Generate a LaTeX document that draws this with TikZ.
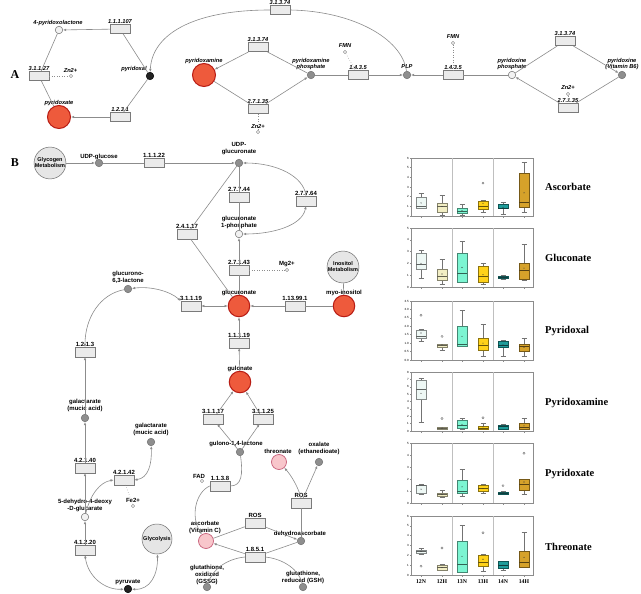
\documentclass[tikz,border=0pt]{standalone}
\usepackage{fontspec}
\setmainfont{Liberation Serif}
\setsansfont{Liberation Sans}
\usetikzlibrary{arrows.meta}
\definecolor{redf}{HTML}{EE5A3C}
\definecolor{redb}{HTML}{B81C14}
\definecolor{pinkf}{HTML}{F8C6CB}
\definecolor{pinkb}{HTML}{C8607A}
\definecolor{greyf}{HTML}{8E8E8E}
\definecolor{greyb}{HTML}{6E6E6E}
\definecolor{blackf}{HTML}{222222}
\definecolor{openf}{HTML}{F2F2F2}
\definecolor{boxf}{HTML}{EBEBEB}
\definecolor{boxb}{HTML}{7A7A7A}
\definecolor{pwf}{HTML}{E6E6E6}
\definecolor{edgec}{HTML}{8C8C8C}
\definecolor{c12N}{HTML}{EEF8F5}
\definecolor{c12H}{HTML}{F2EEC4}
\definecolor{c13N}{HTML}{7CF5D2}
\definecolor{c13H}{HTML}{FFD21A}
\definecolor{c14N}{HTML}{1E9C9A}
\definecolor{c14H}{HTML}{D6A22A}
\tikzset{
 enz/.style={draw=boxb, fill=boxf, line width=0.5pt, minimum width=20pt, minimum height=9.5pt, inner sep=0pt},
 mred/.style={circle, draw=redb, fill=redf, line width=1pt, minimum size=23pt, inner sep=0pt},
 mredb/.style={mred, minimum size=21.5pt},
 mgry/.style={circle, draw=greyb, fill=greyf, line width=0.5pt, minimum size=7.5pt, inner sep=0pt},
 mblk/.style={circle, draw=black, fill=blackf, line width=0.5pt, minimum size=7.5pt, inner sep=0pt},
 mopn/.style={circle, draw=greyb, fill=openf, line width=0.5pt, minimum size=7.5pt, inner sep=0pt},
 mpnk/.style={circle, draw=pinkb, fill=pinkf, line width=0.7pt, minimum size=15pt, inner sep=0pt},
 mion/.style={circle, draw=greyb, fill=white, line width=0.4pt, minimum size=3.4pt, inner sep=0pt},
 pway/.style={circle, draw=greyb, fill=pwf, line width=0.5pt, minimum size=30pt, inner sep=0pt, align=center, font=\sffamily\bfseries\fontsize{5.5}{6}\selectfont},
 tA/.style={font=\sffamily\bfseries\itshape\fontsize{5.7}{6.3}\selectfont, inner sep=0pt, align=center},
 tB/.style={font=\sffamily\bfseries\fontsize{6}{7}\selectfont, inner sep=0pt, align=center},
 eA/.style={tA, anchor=south, inner sep=0.4pt},
 eB/.style={tB, anchor=south, inner sep=0.4pt},
 ln/.style={draw=edgec, line width=0.6pt},
 la/.style={ln, -{Latex[length=3.2pt,width=2.6pt]}},
 lb/.style={ln, {Latex[length=3.2pt,width=2.6pt]}-{Latex[length=3.2pt,width=2.6pt]}},
 lion/.style={draw=edgec, dotted, line width=0.5pt},
 bxfr/.style={draw=black!45, line width=0.5pt},
 bxsep/.style={draw=black!25, line width=0.6pt},
 bxw/.style={draw=black!55, line width=0.45pt},
 tkl/.style={anchor=east, inner sep=0.5pt, font=\sffamily\fontsize{3}{3}\selectfont},
 xlab/.style={font=\bfseries\fontsize{5.8}{6}\selectfont, inner sep=0pt},
 ptitle/.style={font=\bfseries\fontsize{10.5}{11}\selectfont, anchor=west, inner sep=0pt},
 panel/.style={font=\bfseries\fontsize{12}{12}\selectfont, inner sep=0pt}
}
\newcommand\bxsetup[3]{\def\bT{#1}\def\bB{#2}\pgfmathsetmacro\bS{(#2-#1)/#3}%
 \draw[bxfr] (411,\bT) rectangle (533,\bB);
 \draw[bxsep] (452,\bT) -- (452,\bB) (493,\bT) -- (493,\bB);
 \foreach \xx in {421,442,462,483,503,524} {\draw[bxfr] (\xx,\bB) -- (\xx,{\bB+1.5});}}
\newcommand\bxp[8]{%
 \draw[bxw] (#2,{\bB-(#3)*\bS}) -- (#2,{\bB-(#4)*\bS}) (#2,{\bB-(#6)*\bS}) -- (#2,{\bB-(#7)*\bS})
   ({#2-2.5},{\bB-(#3)*\bS}) -- ({#2+2.5},{\bB-(#3)*\bS}) ({#2-2.5},{\bB-(#7)*\bS}) -- ({#2+2.5},{\bB-(#7)*\bS});
 \draw[fill=#1, draw=#1!55!black, line width=0.5pt] ({#2-5},{\bB-(#4)*\bS}) rectangle ({#2+5},{\bB-(#6)*\bS});
 \draw[draw=#1!40!black, line width=0.5pt] ({#2-5},{\bB-(#5)*\bS}) -- ({#2+5},{\bB-(#5)*\bS});
 \fill[black!80] (#2,{\bB-(#8)*\bS}) circle[radius=0.55pt];}
\newcommand\bxo[2]{\draw[black!60, line width=0.35pt] (#1,{\bB-(#2)*\bS}) circle[radius=1.1pt];}
\begin{document}
\begin{tikzpicture}[x=1pt,y=-1pt]
\fill[white] (0,0) rectangle (641,594);
\useasboundingbox (0,0) rectangle (641,594);
% ================= Panel A =================
\node[panel] (pA) at (15,75) {A};
\node[mopn] (plac) at (59,30) {};
\node[tA] (placl) at (58,23) {4-pyridoxolactone};
\node[enz] (e1) at (120,29) {};
\node[eA] (e1l) at (e1.north) {1.1.1.107};
\node[mblk] (pal) at (150,76) {};
\node[tA] (pall) at (134,69) {pyridoxal};
\node[enz] (e2) at (39,76) {};
\node[eA] (e2l) at (e2.north) {3.1.1.27};
\node[mion] (zn1) at (71,76) {};
\node[tA] (zn1l) at (70.5,70.5) {Zn2+};
\node[mred] (pxa) at (59,117) {};
\node[tA] (pxal) at (59,103) {pyridoxate};
\node[enz] (e3) at (120,117) {};
\node[eA] (e3l) at (e3.north) {1.2.3.1};
\node[enz] (e4) at (280,10) {};
\node[eA] (e4l) at (e4.north) {3.1.3.74};
\node[mred] (pam) at (204,75) {};
\node[tA] (paml) at (204,61) {pyridoxamine};
\node[enz] (e5) at (258,47) {};
\node[eA] (e5l) at (e5.north) {3.1.3.74};
\node[enz] (e6) at (258,109) {};
\node[eA] (e6l) at (e6.north) {2.7.1.35};
\node[mion] (zn2) at (258,132) {};
\node[mgry] (pamp) at (311,75) {};
\node[tA] (pampl) at (311,64) {pyridoxamine\\phosphate};
\node[mion] (fmn1) at (345,52) {};
\node[tA] (fmn1l) at (345,46) {FMN};
\node[enz] (e7) at (358,75) {};
\node[eA] (e7l) at (e7.north) {1.4.3.5};
\node[mgry] (plp) at (407,75) {};
\node[tA] (plpl) at (407,67) {PLP};
\node[enz] (e8) at (453,75) {};
\node[eA] (e8l) at (e8.north) {1.4.3.5};
\node[mion] (fmn2) at (453,43) {};
\node[tA] (fmn2l) at (453,37) {FMN};
\node[mopn] (pinp) at (512,75) {};
\node[tA] (pinpl) at (512,64) {pyridoxine\\phosphate};
\node[enz] (e9) at (565,41) {};
\node[eA] (e9l) at (e9.north) {3.1.3.74};
\node[mgry] (pin) at (622,75) {};
\node[tA] (pinl) at (622,64) {pyridoxine\\(Vitamin B6)};
\node[enz] (e10) at (568,108) {};
\node[eA] (e10l) at (e10.north) {2.7.1.35};
\node[mion] (zn3) at (568,94) {};
\node[tA] (zn3l) at (568,88) {Zn2+};
% edges A
\draw[la] (e1) -- (plac);
\draw[ln] (pal) -- (e1);
\draw[ln] (plac) -- (e2);
\draw[ln] (e2) -- (pxa);
\draw[lion] (e2) -- (zn1);
\draw[ln] (pal) -- (e3);
\draw[la] (e3) -- (pxa);
\draw[la] (e4.west) .. controls (192,10) and (152,35) .. (pal);
\draw[ln] (plp) .. controls (402,38) and (352,11) .. (e4.east);
\draw[la] (e5) -- (pam);
\draw[ln] (pamp) -- (e5);
\draw[ln] (pam) -- (e6);
\draw[la] (e6) -- (pamp);
\draw[lion] (e6) -- (zn2);
\node[tA, fill=white, inner sep=0.3pt] (zn2l) at (258,126.5) {Zn2+};
\draw[ln] (pamp) -- (e7);
\draw[la] (e7) -- (plp);
\draw[lion] (fmn1) -- (e7);
\draw[la] (e8) -- (plp);
\draw[lion] (fmn2) -- (e8);
\draw[ln] (pinp) -- (e8);
\draw[ln] (pinp) -- (e9);
\draw[la] (e9) -- (pin);
\draw[ln] (pin) -- (e10);
\draw[la] (e10) -- (pinp);
\draw[lion] (zn3) -- (e10);
% ================= Panel B =================
\node[panel] (pB) at (15,163) {B};
\node[pway] (glyc) at (50,163) {Glycogen\\Metabolism};
\node[mgry] (udpg) at (99,163) {};
\node[tB] (udpgl) at (99,157) {UDP-glucose};
\node[enz] (b1) at (154,163) {};
\node[eB] (b1l) at (b1.north) {1.1.1.22};
\node[mgry] (udpga) at (239,163) {};
\node[tB] (udpgal) at (239,149) {UDP-\\glucuronate};
\node[enz] (b2) at (239,197) {};
\node[eB] (b2l) at (b2.north) {2.7.7.44};
\node[mopn] (g1p) at (239,234) {};
\node[tB] (g1pl) at (239,222) {glucuronate\\1-phosphate};
\node[enz] (b3) at (306,201) {};
\node[eB] (b3l) at (b3.north) {2.7.7.64};
\node[enz] (b4) at (239,270) {};
\node[eB] (b4l) at (b4.north) {2.7.1.43};
\node[mion] (mg) at (287,270) {};
\node[tB] (mgl) at (287,264) {Mg2+};
\node[mredb] (gla) at (239,306) {};
\node[tB] (glal) at (239,293) {glucuronate};
\node[enz] (b5) at (187,234) {};
\node[eB] (b5l) at (b5.north) {2.4.1.17};
\node[pway] (inos) at (343,267) {Inositol\\Metabolism};
\node[mredb] (myo) at (344,306) {};
\node[tB] (myol) at (344,293) {myo-inositol};
\node[enz] (b6) at (295,306) {};
\node[eB] (b6l) at (b6.north) {1.13.99.1};
\node[enz] (b7) at (191,306) {};
\node[eB] (b7l) at (b7.north) {3.1.1.19};
\node[mgry] (glac) at (128,289) {};
\node[tB] (glacl) at (128,277) {glucurono-\\6,3-lactone};
\node[enz] (b8) at (85,352) {};
\node[eB] (b8l) at (b8.north) {1.2.1.3};
\node[mgry] (gal1) at (85,418) {};
\node[tB] (gal1l) at (85,405) {galactarate\\(mucic acid)};
\node[enz] (b9) at (85,468) {};
\node[eB] (b9l) at (b9.north) {4.2.1.40};
\node[enz] (b10) at (124,480) {};
\node[eB] (b10l) at (b10.north) {4.2.1.42};
\node[mgry] (gal2) at (151,442) {};
\node[tB] (gal2l) at (151,429) {galactarate\\(mucic acid)};
\node[mion] (fe) at (133,506) {};
\node[tB] (fel) at (133,500) {Fe2+};
\node[mopn] (dhd) at (85,517) {};
\node[tB] (dhdl) at (85,505) {5-dehydro-4-deoxy\\-D-glucarate};
\node[enz] (b11) at (85,550) {};
\node[eB] (b11l) at (b11.north) {4.1.2.20};
\node[mblk] (pyr) at (128,589) {};
\node[tB] (pyrl) at (128,582.5) {pyruvate};
\node[pway] (glyco) at (157,539) {Glycolysis};
\node[mredb] (gul) at (240,382) {};
\node[tB] (gull) at (240,369) {gulonate};
\node[enz] (b12) at (239,343) {};
\node[eB] (b12l) at (b12.north) {1.1.1.19};
\node[enz] (b13) at (213,419) {};
\node[eB] (b13l) at (b13.north) {3.1.1.17};
\node[enz] (b14) at (263,419) {};
\node[eB] (b14l) at (b14.north) {3.1.1.25};
\node[mgry] (glt) at (240,452) {};
\node[tB] (gltl) at (236,444) {gulono-1,4-lactone};
\node[enz] (b15) at (220,486) {};
\node[eB] (b15l) at (b15.north) {1.1.3.8};
\node[mion] (fad) at (202,481) {};
\node[tB] (fadl) at (199,476) {FAD};
\node[mpnk] (asc) at (206,541) {};
\node[tB] (ascl) at (205,527.5) {ascorbate\\(Vitamin C)};
\node[mpnk] (thr) at (279,462) {};
\node[tB] (thrl) at (278,451) {threonate};
\node[mgry] (oxa) at (319,462) {};
\node[tB] (oxal) at (319,448) {oxalate\\(ethanedioate)};
\node[enz] (b16) at (301,503) {};
\node[eB] (b16l) at (b16.north) {ROS};
\node[mgry] (dha) at (301,541) {};
\node[tB] (dhal) at (300,534) {dehydroascorbate};
\node[enz] (b17) at (255,523) {};
\node[eB] (b17l) at (b17.north) {ROS};
\node[enz] (b18) at (255,557) {};
\node[eB] (b18l) at (b18.north) {1.8.5.1};
\node[mgry] (gssg) at (207,587) {};
\node[tB] (gssgl) at (207,574.5) {glutathione,\\oxidized\\(GSSG)};
\node[mgry] (gsh) at (303,587) {};
\node[tB] (gshl) at (303,577) {glutathione,\\reduced (GSH)};
% edges B
\draw[la] (glyc) -- (udpg);
\draw[ln] (udpg) -- (b1);
\draw[la] (b1) -- (udpga);
\draw[ln] (udpga) -- (b2);
\draw[ln] (b2) -- (g1p);
\draw[la] (b3.north) .. controls (304,176) and (276,163) .. (udpga);
\draw[lb] (b3.south) .. controls (302,226) and (272,234) .. (g1p);
\draw[la] (b4) -- (g1p);
\draw[ln] (gla) -- (b4);
\draw[lion] (b4) -- (mg);
\draw[ln] (udpga) -- (b5);
\draw[ln] (b5) -- (gla);
\draw[ln] (inos) -- (myo);
\draw[ln] (myo) -- (b6);
\draw[la] (b6) -- (gla);
\draw[lb] (b7) -- (gla);
\draw[lb] (b7.north west) .. controls (170,291) and (150,286) .. (glac);
\draw[la] (glac) .. controls (100,294) and (85,318) .. (b8.north);
\draw[la] (gal1) -- (b8);
\draw[la] (b9) -- (gal1);
\draw[la] (dhd) -- (b9);
\draw[la] (dhd) .. controls (90,495) and (100,482) .. (b10.west);
\draw[lb] (b10.east) .. controls (148,478) and (152,465) .. (gal2);
\draw[lion] (b10) -- (fe);
\draw[la] (b11) -- (dhd);
\draw[lb] (b11.south) .. controls (88,577) and (105,590) .. (pyr);
\draw[lb] (pyr) .. controls (150,590) and (158,575) .. (glyco);
\draw[la] (b12) -- (gla);
\draw[la] (gul) -- (b12);
\draw[la] (b13) -- (gul);
\draw[la] (b14) -- (gul);
\draw[la] (glt) -- (b13);
\draw[la] (glt) -- (b14);
\draw[ln] (glt) .. controls (243,474) and (242,486) .. (b15.east);
\draw[la] (b15.west) .. controls (196,492) and (190,516) .. (asc);
\draw[la] (b16.north) .. controls (298,486) and (290,474) .. (thr);
\draw[la] (b16) -- (oxa);
\draw[ln] (dha) -- (b16);
\draw[ln] (asc) -- (b17);
\draw[la] (b17) -- (dha);
\draw[ln] (dha) -- (b18);
\draw[la] (b18) -- (asc);
\draw[ln] (gssg) .. controls (212,570) and (226,559) .. (b18.west);
\draw[ln] (b18.east) .. controls (284,559) and (299,570) .. (gsh);
% ================= Box plots =================
% Ascorbate
\bxsetup{158}{216}{6}
\foreach \v in {0,...,6} {\draw[bxfr] (411,{\bB-\v*\bS}) -- (409.5,{\bB-\v*\bS}) node[tkl]{\v};}
\bxp{c12N}{421}{0.8}{0.85}{1.0}{1.9}{2.4}{1.35}
\bxp{c12H}{442}{0.05}{0.35}{1.0}{1.35}{2.1}{1.0}
\bxp{c13N}{462}{0.05}{0.25}{0.5}{0.85}{1.2}{0.55}
\bxp{c13H}{483}{0.4}{0.75}{1.0}{1.55}{1.65}{1.3}\bxo{483}{3.4}
\bxp{c14N}{503}{0.2}{0.8}{0.8}{1.2}{1.4}{0.9}
\bxp{c14H}{524}{0.4}{0.9}{1.4}{4.4}{5.6}{2.4}
\node[ptitle] (t1) at (545,187) {Ascorbate};
% Gluconate
\bxsetup{228}{287}{5}
\foreach \v in {0,...,5} {\draw[bxfr] (411,{\bB-\v*\bS}) -- (409.5,{\bB-\v*\bS}) node[tkl]{\v};}
\bxp{c12N}{421}{0.75}{1.5}{1.9}{2.85}{3.15}{2.0}
\bxp{c12H}{442}{0.25}{0.55}{0.95}{1.5}{2.35}{1.1}
\bxp{c13N}{462}{0.4}{0.4}{1.2}{2.9}{3.9}{1.65}
\bxp{c13H}{483}{0.25}{0.4}{0.95}{1.75}{2.05}{1.05}
\bxp{c14N}{503}{0.7}{0.75}{0.85}{0.95}{1.0}{0.85}
\bxp{c14H}{524}{0.6}{0.65}{1.45}{2.0}{3.65}{1.6}
\node[ptitle] (t2) at (545,258) {Gluconate};
% Pyridoxal
\bxsetup{301}{360}{3.5}
\foreach \v/\t in {0/0.0,0.5/0.5,1/1.0,1.5/1.5,2/2.0,2.5/2.5,3/3.0,3.5/3.5} {\draw[bxfr] (411,{\bB-\v*\bS}) -- (409.5,{\bB-\v*\bS}) node[tkl]{\t};}
\bxp{c12N}{421}{1.1}{1.3}{1.4}{1.75}{1.8}{1.6}\bxo{421}{2.65}
\bxp{c12H}{442}{0.6}{0.75}{0.85}{0.95}{0.95}{0.9}\bxo{442}{1.4}
\bxp{c13N}{462}{0.8}{0.8}{0.95}{2.0}{2.95}{1.4}
\bxp{c13H}{483}{0.25}{0.55}{0.9}{1.3}{2.1}{1.0}
\bxp{c14N}{503}{0.25}{0.75}{0.9}{1.1}{1.15}{0.9}
\bxp{c14H}{524}{0.25}{0.5}{0.8}{0.95}{1.3}{0.75}
\node[ptitle] (t3) at (545,331) {Pyridoxal};
% Pyridoxamine
\bxsetup{372}{431}{8}
\foreach \v in {0,...,8} {\draw[bxfr] (411,{\bB-\v*\bS}) -- (409.5,{\bB-\v*\bS}) node[tkl]{\v};}
\bxp{c12N}{421}{1.2}{4.3}{5.7}{6.9}{7.2}{5.1}
\bxp{c12H}{442}{0.25}{0.3}{0.4}{0.5}{0.55}{0.4}\bxo{442}{1.7}
\bxp{c13N}{462}{0.3}{0.4}{0.8}{1.5}{1.75}{0.9}
\bxp{c13H}{483}{0.2}{0.25}{0.4}{0.7}{1.1}{0.55}\bxo{483}{1.8}
\bxp{c14N}{503}{0.2}{0.25}{0.6}{0.75}{0.9}{0.6}
\bxp{c14H}{524}{0.2}{0.3}{0.45}{1.0}{1.75}{0.7}
\node[ptitle] (t4) at (545,403) {Pyridoxamine};
% Pyridoxate
\bxsetup{443}{503}{5}
\foreach \v in {0,...,5} {\draw[bxfr] (411,{\bB-\v*\bS}) -- (409.5,{\bB-\v*\bS}) node[tkl]{\v};}
\bxp{c12N}{421}{0.75}{0.8}{1.45}{1.5}{1.55}{1.15}
\bxp{c12H}{442}{0.45}{0.55}{0.7}{0.85}{1.05}{0.7}
\bxp{c13N}{462}{0.55}{0.8}{0.95}{1.9}{2.85}{1.35}
\bxp{c13H}{483}{0.85}{0.95}{1.2}{1.45}{1.6}{1.2}
\bxp{c14N}{503}{0.75}{0.75}{0.85}{0.9}{0.95}{0.85}\bxo{503}{1.45}
\bxp{c14H}{524}{0.7}{1.05}{1.55}{1.95}{1.95}{1.75}\bxo{524}{4.15}
\node[ptitle] (t5) at (545,474) {Pyridoxate};
% Threonate
\bxsetup{516}{575}{6}
\foreach \v in {0,...,6} {\draw[bxfr] (411,{\bB-\v*\bS}) -- (409.5,{\bB-\v*\bS}) node[tkl]{\v};}
\bxp{c12N}{421}{2.1}{2.2}{2.4}{2.55}{2.7}{2.4}\bxo{421}{0.9}
\bxp{c12H}{442}{0.45}{0.5}{0.75}{1.0}{1.05}{0.75}\bxo{442}{2.75}
\bxp{c13N}{462}{0.3}{0.3}{1.1}{3.45}{5.1}{1.9}
\bxp{c13H}{483}{0.4}{0.85}{1.25}{2.0}{2.1}{1.6}\bxo{483}{4.3}
\bxp{c14N}{503}{0.5}{0.7}{1.0}{1.35}{1.4}{1.0}
\bxp{c14H}{524}{0.75}{0.8}{1.3}{2.4}{4.35}{1.8}
\node[ptitle] (t6) at (545,547) {Threonate};
\foreach \xx/\t in {421/12N,442/12H,462/13N,483/13H,503/14N,524/14H} {\node[xlab] at (\xx,582) {\t};}
\end{tikzpicture}
\end{document}
